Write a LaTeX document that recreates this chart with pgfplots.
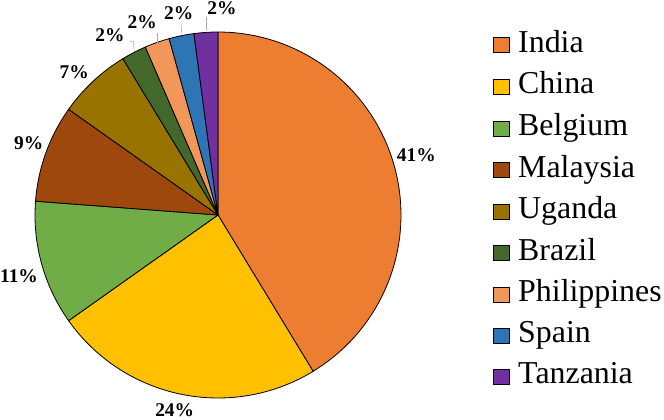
\documentclass[border=0pt]{standalone}
\usepackage{fontspec}
\setmainfont{Liberation Serif}
\usepackage{pgfplots}
\usepackage{pgfplotstable}
\pgfplotsset{compat=1.18}
\usepgfplotslibrary{polar}

\definecolor{cIndia}{HTML}{ED7D31}
\definecolor{cChina}{HTML}{FFC000}
\definecolor{cBelgium}{HTML}{70AD47}
\definecolor{cMalaysia}{HTML}{9E480E}
\definecolor{cUganda}{HTML}{997300}
\definecolor{cBrazil}{HTML}{43682B}
\definecolor{cPhilippines}{HTML}{F1975A}
\definecolor{cSpain}{HTML}{2E75B6}
\definecolor{cTanzania}{HTML}{7030A0}

\pgfplotstableread{
country value
India 41.3
China 23.9
Belgium 11.0
Malaysia 8.6
Uganda 6.5
Brazil 2.2
Philippines 2.2
Spain 2.2
Tanzania 2.1
}\piedata

\begin{document}
\begin{tikzpicture}
\begin{polaraxis}[
  hide axis, scale only axis, width=366bp, height=366bp,
  ymin=0, ymax=1, clip=false,
  legend style={at={(1.252,1.011)}, anchor=north west, draw=none, fill=none,
    inner sep=0pt, font=\fontsize{32}{38}\selectfont, row sep=14bp,
    /tikz/every odd column/.append style={column sep=6bp}},
  legend cell align=left,
  legend image code/.code={\draw[#1] (0bp,-10.8bp) rectangle (16bp,4.2bp);},
]
\coordinate (O) at (axis cs:0,0);
\def\cum{0}
\pgfplotsforeachungrouped \i in {0,...,8}{%
  \pgfplotstablegetelem{\i}{value}\of\piedata \let\v\pgfplotsretval
  \pgfplotstablegetelem{\i}{country}\of\piedata \let\c\pgfplotsretval
  \pgfmathsetmacro\a{90-3.6*\cum}%
  \pgfmathsetmacro\b{90-3.6*(\cum+\v)}%
  \edef\temp{\noexpand\addplot[fill=c\c, draw=black, line width=0.8bp, domain=\b:\a, samples=90] {1} -- (axis cs:0,0) -- cycle; \noexpand\addlegendentry{\c}}%
  \temp
  \pgfmathsetmacro\cum{\cum+\v}%
}
\end{polaraxis}
\begin{scope}[shift={(O)}, x=1bp, y=1bp, font=\bfseries\fontsize{19.5}{22}\selectfont]
  \node at (198.3,60) {41\%};
  \node at (-43.3,-195) {24\%};
  \node at (-199,-61) {11\%};
  \node at (-189.3,72.3) {9\%};
  \node at (-143.7,143.3) {7\%};
  \node at (-108,180) {2\%};
  \node at (-75.7,192.4) {2\%};
  \node at (-39.3,201.7) {2\%};
  \node at (4,206.7) {2\%};
  \draw[gray!70, line width=0.6bp] (-88.7,173.3) -- (-84.7,173.3) -- (-83.7,164.3);
  \draw[gray!70, line width=0.6bp] (-60.7,181.7) -- (-60.7,171.7);
  \draw[gray!70, line width=0.6bp] (-37,191.7) -- (-36.3,181.7);
  \draw[gray!70, line width=0.6bp] (-12,198.3) -- (-12,185);
\end{scope}
\pgfresetboundingbox
\path[use as bounding box] (O) ++(-218bp,-205bp) rectangle ++(664bp,420bp);
\end{tikzpicture}
\end{document}
